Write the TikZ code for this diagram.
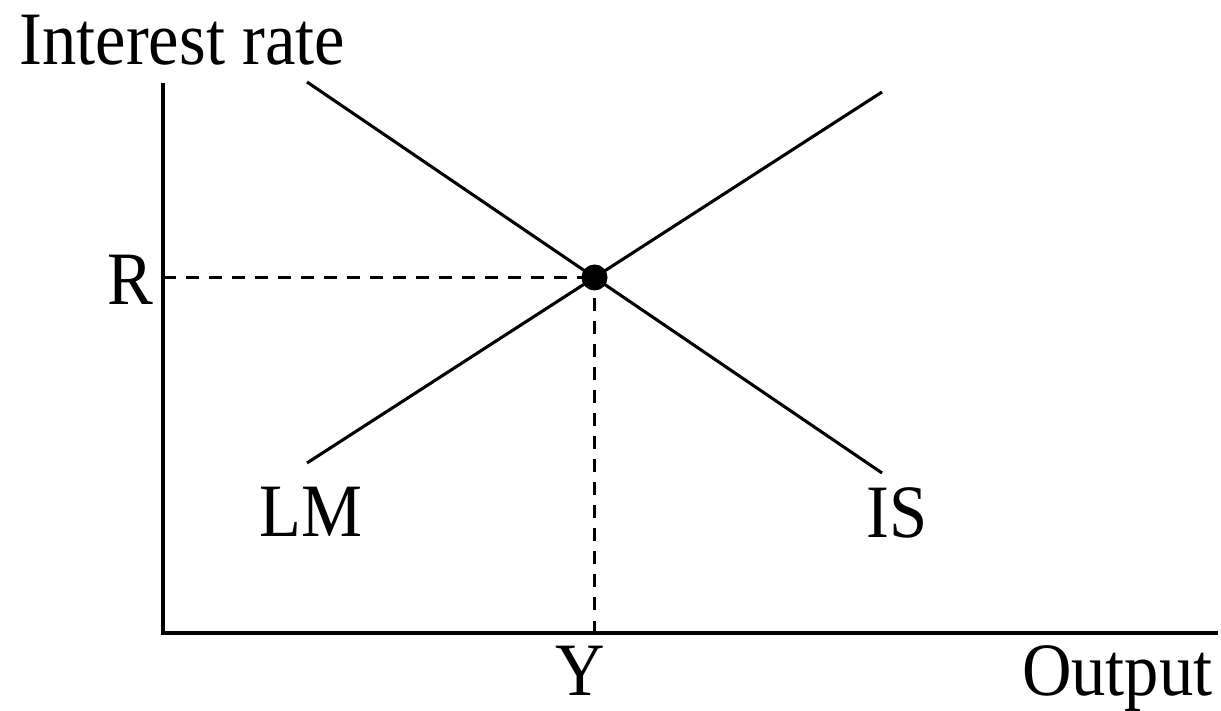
\documentclass[tikz,border=0pt]{standalone}
\usepackage{fontspec}
\setmainfont{Liberation Serif}
\usetikzlibrary{positioning}

\begin{document}
\begin{tikzpicture}[line width=1.75pt,
  lbl/.style={inner sep=0pt, yscale=1.1, transform shape, font=\fontsize{39}{47}\selectfont},
  guide/.style={dash pattern=on 0.25cm off 0.21cm}]
\useasboundingbox (0,0) rectangle (24.42,14.2);
\coordinate (O) at (3.26,1.54);
\coordinate (ytop) at (3.26,12.54);
\coordinate (xend) at (24.36,1.54);
\coordinate (is1) at (6.14,12.56);
\coordinate (is2) at (17.64,4.74);
\coordinate (lm1) at (6.14,4.94);
\coordinate (lm2) at (17.64,12.36);
\draw (ytop) -- (O) -- (xend);
\draw (is1) -- (is2);
\draw (lm1) -- (lm2);
\node[circle, fill, inner sep=0pt, minimum size=0.52cm] (eq)
  at (intersection of is1--is2 and lm1--lm2) {};
\draw[guide] (eq.center -| O) -- (eq.center);
\draw[guide] (eq.center |- O) -- (eq.center);
\node[lbl, anchor=base west] (rate) at (0.36,12.9) {Interest rate};
\node[lbl, anchor=base east] (rlab) at (3.10,8.1) {R};
\node[lbl, anchor=base] (ylab) at (11.6,0.3) {Y};
\node[lbl, anchor=base east] (output) at (24.28,0.3) {Output};
\node[lbl, anchor=base] (lm) at (6.22,3.46) {LM};
\node[lbl, anchor=base] (is) at (17.94,3.44) {IS};
\end{tikzpicture}
\end{document}
